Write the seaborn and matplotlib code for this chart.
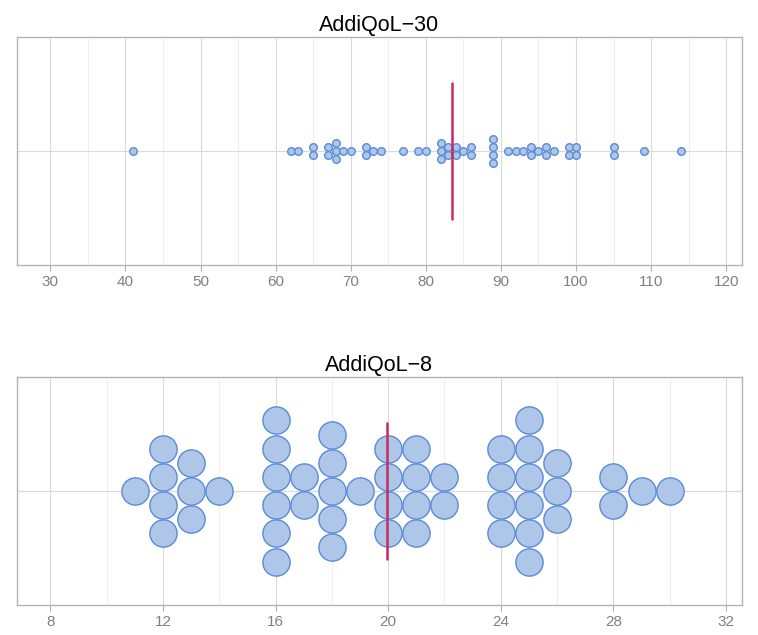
import numpy as np
import pandas as pd
import matplotlib
matplotlib.use("Agg")
import matplotlib.pyplot as plt
from matplotlib.ticker import MultipleLocator
import seaborn as sns

# Scores per questionnaire (one entry per respondent)
qol30_scores = [41, 62, 63, 65, 65, 67, 67, 68, 68, 68, 69, 70, 72, 72, 73, 74,
                77, 79, 80, 82, 82, 82, 83, 83, 84, 84, 85, 86, 86,
                89, 89, 89, 89, 91, 92, 93, 94, 94, 95, 96, 96, 97,
                99, 99, 100, 100, 105, 105, 109, 114]
qol8_scores = [11, 12, 12, 12, 12, 13, 13, 13, 14,
               16, 16, 16, 16, 16, 16, 17, 17, 18, 18, 18, 18, 18, 19,
               20, 20, 20, 20, 21, 21, 21, 21, 22, 22,
               24, 24, 24, 24, 25, 25, 25, 25, 25, 25, 26, 26, 26,
               28, 28, 29, 30]

titles = ["AddiQoL\u221230", "AddiQoL\u22128"]

sns.set_theme(style="white")
plt.rcParams["font.family"] = ["Liberation Sans", "DejaVu Sans"]

FILL = "#aec6e8"
EDGE = "#5b8bd8"
MEAN_COLOR = "#c82a62"
GRID_MAJOR = "#dadada"
GRID_MINOR = "#eeeeee"
TICK_COLOR = "#808080"


def centered_stack(values):
    """Stack equal values vertically, centred on zero (one unit per dot)."""
    df = pd.DataFrame({"score": values})
    df["k"] = df.groupby("score").cumcount()
    df["n"] = df.groupby("score")["score"].transform("size")
    df["offset"] = df["k"] - (df["n"] - 1) / 2.0
    return df


fig = plt.figure(figsize=(7.58, 6.35), dpi=100)
ax_top = fig.add_axes([0.0218, 0.5827, 0.9571, 0.3590])
ax_bot = fig.add_axes([0.0218, 0.0472, 0.9571, 0.3591])

panels = [
    dict(ax=ax_top, data=qol30_scores, title=titles[0], xlim=(25.5, 122.1),
         major=10, minor=5, half_height=14.8, size=30),
    dict(ax=ax_bot, data=qol8_scores, title=titles[1], xlim=(6.8, 32.57),
         major=4, minor=2, half_height=4.04, size=385),
]

for p in panels:
    ax = p["ax"]
    df = centered_stack(p["data"])
    sns.scatterplot(data=df, x="score", y="offset", ax=ax, s=p["size"],
                    color=FILL, edgecolor=EDGE, linewidth=1.0, zorder=3,
                    legend=False)
    ax.axvline(np.mean(p["data"]), ymin=0.2, ymax=0.8, color=MEAN_COLOR,
               lw=1.8, zorder=4)

    ax.set_xlim(*p["xlim"])
    ax.set_ylim(-p["half_height"], p["half_height"])
    ax.xaxis.set_major_locator(MultipleLocator(p["major"]))
    ax.xaxis.set_minor_locator(MultipleLocator(p["minor"]))
    ax.set_yticks([0])
    ax.set_yticklabels([])
    ax.tick_params(axis="y", length=0)
    ax.grid(True, which="major", color=GRID_MAJOR, lw=0.8, zorder=0)
    ax.grid(True, which="minor", axis="x", color=GRID_MINOR, lw=0.8, zorder=0)
    ax.set_axisbelow(True)
    ax.tick_params(axis="x", which="major", bottom=True, length=4, width=0.8,
                   color="#b0b0b0", labelcolor=TICK_COLOR, labelsize=11, pad=3)
    ax.tick_params(axis="x", which="minor", bottom=False)
    for sp in ax.spines.values():
        sp.set_color("#b3b3b3")
        sp.set_linewidth(1.0)
    ax.set_xlabel("")
    ax.set_ylabel("")
    ax.set_title(p["title"], fontsize=15.5, color="black", pad=4)

fig.savefig("out.png", dpi=100)
